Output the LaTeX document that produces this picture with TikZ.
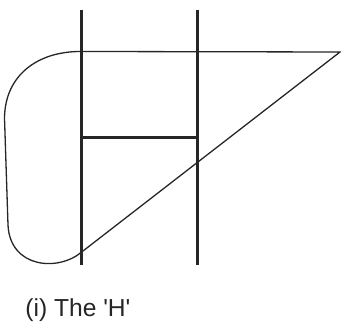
\documentclass[tikz,border=0pt]{standalone}
\usepackage{fontspec}
\setmainfont{Liberation Sans}
\usepackage{tikz}
\usetikzlibrary{positioning}

\tikzset{
    outline/.style={line width=0.65pt, black!85},
    hbar/.style={line width=1.35pt, black!85},
    caption/.style={anchor=base west, inner sep=0pt, font=\fontsize{12.3}{14}\selectfont, text=black!85}
}

\begin{document}
\begin{tikzpicture}[x=0.5pt, y=-0.5pt]
    \useasboundingbox (0, 0) rectangle (341, 324);

    % Liver outline
    \coordinate (topleft) at (81.7, 51.5);
    \coordinate (tip) at (340, 52);
    \coordinate (lowleft) at (81.7, 252);
    \coordinate (sidelow) at (8, 225);
    \coordinate (sidehigh) at (4.5, 118);
    \draw[outline] (topleft) -- (tip) -- (lowleft)
        .. controls (58, 272) and (10, 268) .. (sidelow)
        -- (sidehigh)
        .. controls (5, 75) and (38, 51) .. (topleft);

    % The H
    \foreach \x/\name in {81.7/left, 197.7/right} {
        \coordinate (\name top) at (\x, 10);
        \coordinate (\name bot) at (\x, 265);
        \draw[hbar] (\name top) -- (\name bot);
    }
    \coordinate (barleft) at (81.7, 137.7);
    \coordinate (barright) at (197.7, 137.7);
    \draw[hbar] (barleft) -- (barright);

    % Caption
    \node[caption] (label) at (25, 317) {(i) The \textquotesingle H\textquotesingle};
\end{tikzpicture}
\end{document}
